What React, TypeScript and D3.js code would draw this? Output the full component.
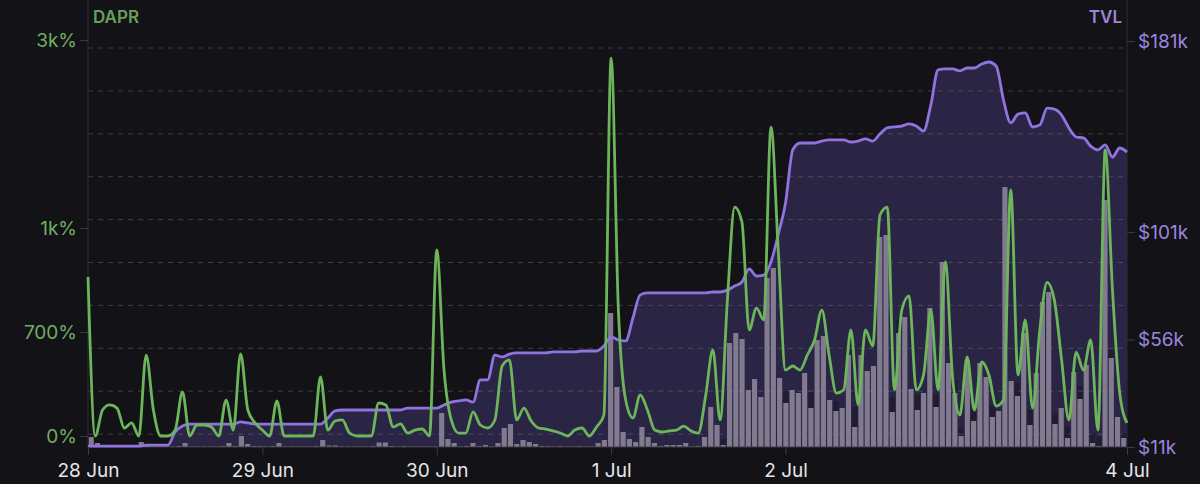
import React from 'react';
import {
  select,
  scaleLinear,
  scaleTime,
  scaleBand,
  line,
  area,
  curveMonotoneX,
  axisLeft,
  axisRight,
  axisBottom,
  range,
  timeHour,
  timeDay,
  timeFormat,
} from 'd3';

// hourly samples, 28 Jun 00:00 -> 3 Jul 23:00
const startTime = new Date(2023, 5, 28);
const hours = range(144).map(h => timeHour.offset(startTime, h));

// DAPR in %
const dapr = [
  859, 0, 175, 209, 188, 54, 88, 0, 545, 175,
  0, 0, 40, 296, 0, 74, 74, 61, 0, 242,
  40, 552, 175, 88, 40, 0, 236, 0, 0, 0,
  0, 0, 397, 40, 101, 108, 20, 0, 0, 0,
  222, 209, 61, 81, 20, 40, 47, 0, 937, 444,
  108, 20, 20, 162, 74, 54, 108, 471, 512, 108,
  188, 101, 54, 47, 34, 20, 0, 40, 54, 0,
  61, 141, 2808, 763, 242, 121, 276, 175, 40, 27,
  34, 40, 67, 34, 20, 269, 579, 108, 792, 1223,
  1064, 706, 769, 735, 2074, 937, 444, 471, 444, 545,
  646, 763, 545, 289, 310, 706, 209, 706, 606, 1138,
  1223, 310, 763, 804, 310, 411, 763, 310, 902, 390,
  141, 532, 175, 498, 411, 202, 242, 1404, 411, 735,
  188, 706, 843, 792, 512, 108, 565, 444, 646, 40,
  1830, 821, 289, 88,
];

// TVL in $k
const tvl = [
  11.4, 11.4, 11.4, 11.4, 11.4, 11.4, 11.4, 11.4, 11.8, 11.8,
  11.8, 11.8, 17.3, 19.8, 20.6, 20.6, 20.6, 20.6, 20.6, 20.6,
  20.6, 21.5, 21.1, 20.6, 20.6, 20.6, 20.6, 20.6, 20.6, 20.6,
  20.6, 20.6, 20.6, 23.1, 26.1, 26.5, 26.5, 26.5, 26.5, 26.5,
  26.5, 26.5, 26.5, 26.5, 27.3, 27.3, 27.3, 27.3, 27.3, 28.6,
  29.8, 30.3, 30.7, 29.8, 39.1, 39.1, 49.5, 48.7, 49.9, 50.4,
  50.4, 50.4, 50.4, 50.4, 50.8, 50.8, 50.8, 50.8, 51.2, 51.2,
  51.2, 53.3, 57.1, 55.8, 55.4, 65.0, 74.7, 75.5, 75.5, 75.5,
  75.5, 75.5, 75.5, 75.5, 75.5, 75.5, 75.9, 75.9, 76.7, 78.4,
  80.1, 85.6, 82.6, 83.0, 88.5, 100.0, 113.2, 135.4, 138.3, 138.3,
  138.3, 139.1, 139.6, 139.6, 139.6, 138.7, 139.1, 140.0, 139.1, 142.1,
  144.6, 145.0, 145.4, 146.3, 145.4, 143.3, 154.2, 168.9, 169.3, 169.3,
  168.5, 169.7, 169.7, 171.4, 172.2, 170.5, 156.3, 146.7, 150.4, 150.9,
  145.0, 145.8, 152.9, 152.5, 150.0, 144.6, 140.8, 140.4, 137.0, 135.4,
  137.5, 132.4, 136.2, 134.5,
];

// volume bars (lower grey part, upper dark part)
const volumeBase = [
  10, 4, 1, 0.5, 0.5, 0.5, 0.5, 0.5, 5, 1,
  0.5, 0.5, 0.5, 0.5, 1, 4, 0.5, 0.5, 0.5, 0.5,
  0.5, 1, 4, 1, 11, 3, 1, 1, 0.5, 1,
  4, 0.5, 0.5, 0.5, 0.5, 0.5, 1, 7, 1.5, 1.5,
  0.5, 0.5, 0.5, 0.5, 0.5, 1, 4.5, 4.5, 1, 0.5,
  1, 0.5, 0.5, 0.5, 0.5, 0.5, 34, 8, 4, 0.5,
  1, 4, 1, 2, 0.5, 4, 19, 23, 3, 7,
  5, 3, 1, 1, 0.5, 1, 0.5, 0.5, 1, 0.5,
  0.5, 4, 7, 134, 60, 15, 8, 5, 20, 10,
  4, 1, 2, 2, 2, 4, 0.5, 1, 10, 40,
  22, 2, 104, 114, 108, 57, 68, 50, 169, 179,
  69, 44, 57, 54, 74, 39, 107, 111, 47, 36,
  39, 92, 20, 92, 76, 81, 210, 212, 35, 114,
  130, 58, 37, 54, 139, 40, 185, 84, 54, 11,
  87, 26, 84, 70, 30, 36, 260, 66, 51, 114,
  22, 74, 145, 155, 23, 39, 9, 75, 48, 82,
  4, 1, 247, 89, 30, 9,
];
const volumeExtra = [
  0, 0, 0, 0, 0, 0, 0, 0, 0, 0,
  0, 0, 0, 0, 0, 0, 0, 0, 0, 0,
  0, 0, 0, 0, 0, 0, 0, 0, 0, 0,
  0, 0, 0, 0, 0, 0, 0, 0, 0, 0,
  0, 0, 0, 0, 0, 0, 0, 0, 0, 0,
  0, 0, 0, 0, 0, 0, 0, 0, 0, 0,
  0, 0, 0, 0, 0, 0, 0, 0, 0, 0,
  0, 0, 0, 0, 0, 0, 0, 0, 0, 0,
  0, 0, 0, 0, 0, 0, 0, 0, 0, 0,
  0, 0, 0, 0, 0, 0, 0, 0, 0, 0,
  0, 6, 0, 0, 0, 0, 0, 0, 0, 0,
  0, 12, 0, 0, 0, 16, 0, 0, 0, 10,
  0, 0, 20, 0, 0, 0, 0, 0, 15, 13,
  0, 0, 15, 0, 0, 13, 0, 0, 13, 9,
  0, 11, 0, 0, 11, 0, 0, 0, 13, 0,
  15, 0, 0, 0, 11, 0, 12, 0, 13, 0,
  10, 9, 45, 8, 0, 5,
];

const daprTicks = [0, 700, 1000, 3000];
const daprTickLabels = ['0%', '700%', '1k%', '3k%'];
const tvlTicks = [11, 56, 101, 181];
const tvlTickLabels = ['$11k', '$56k', '$101k', '$181k'];
const dayTicks = range(5).map(d => timeDay.offset(startTime, d));

const W = 1200;
const H = 484;
const X0 = 88;
const X1 = 1127;
const Y_BOTTOM = 447;
const FONT = 'Inter, "Noto Sans", sans-serif';

const GREEN = '#6db55a';
const PURPLE = '#9173e0';

export default function App() {
  const svgRef = React.useRef<SVGSVGElement>(null);

  React.useEffect(() => {
    const svg = select(svgRef.current);
    svg.selectAll('*').remove();

    const xScale = scaleTime()
      .domain([hours[0], hours[hours.length - 1]])
      .range([X0, X1]);
    const daprScale = scaleLinear().domain(daprTicks).range([436, 332, 228, 40]);
    const tvlScale = scaleLinear().domain([11, 181]).range([Y_BOTTOM, 41]);
    const volScale = scaleLinear().domain([0, 400]).range([Y_BOTTOM, 47]);
    const barScale = scaleBand<number>()
      .domain(range(volumeBase.length))
      .range([X0, X1])
      .paddingInner(0.18)
      .paddingOuter(0.1);

    svg.append('rect').attr('width', W).attr('height', H).attr('fill', '#131317');

    // tvl area
    const tvlArea = area<number>()
      .x((_, i) => xScale(hours[i]))
      .y0(Y_BOTTOM)
      .y1(d => tvlScale(d))
      .curve(curveMonotoneX);
    svg.append('path').datum(tvl).attr('d', tvlArea).attr('fill', '#2b2545');

    // bars
    const bars = svg.append('g');
    bars
      .selectAll('.vol-base')
      .data(volumeBase)
      .join('rect')
      .attr('class', 'vol-base')
      .attr('x', (_, i) => barScale(i)!)
      .attr('width', barScale.bandwidth())
      .attr('y', d => volScale(d))
      .attr('height', d => Y_BOTTOM - volScale(d))
      .attr('fill', '#827b8f');
    bars
      .selectAll('.vol-extra')
      .data(volumeExtra)
      .join('rect')
      .attr('class', 'vol-extra')
      .attr('x', (_, i) => barScale(i)!)
      .attr('width', barScale.bandwidth())
      .attr('y', (d, i) => volScale(volumeBase[i] + d))
      .attr('height', (d, i) => volScale(volumeBase[i]) - volScale(volumeBase[i] + d))
      .attr('fill', '#211c31');

    // dashed grid
    svg
      .append('g')
      .selectAll('line')
      .data(range(10).map(k => 48 + k * 42.9))
      .join('line')
      .attr('x1', X0)
      .attr('x2', X1)
      .attr('y1', d => d)
      .attr('y2', d => d)
      .attr('stroke', '#8a8a99')
      .attr('stroke-opacity', 0.35)
      .attr('stroke-dasharray', '5,5');

    // axis frame
    svg.append('line').attr('x1', X0).attr('x2', X0).attr('y1', 0).attr('y2', Y_BOTTOM)
      .attr('stroke', '#2c2c32');
    svg.append('line').attr('x1', X1).attr('x2', X1).attr('y1', 0).attr('y2', Y_BOTTOM)
      .attr('stroke', '#2c2c32');
    svg.append('line').attr('x1', X0).attr('x2', X1).attr('y1', Y_BOTTOM).attr('y2', Y_BOTTOM)
      .attr('stroke', '#3a3a40');

    // lines
    const tvlLine = line<number>()
      .x((_, i) => xScale(hours[i]))
      .y(d => tvlScale(d))
      .curve(curveMonotoneX);
    svg.append('path').datum(tvl).attr('d', tvlLine)
      .attr('fill', 'none').attr('stroke', PURPLE).attr('stroke-width', 2.8);

    const daprLine = line<number>()
      .x((_, i) => xScale(hours[i]))
      .y(d => daprScale(d))
      .curve(curveMonotoneX);
    svg.append('path').datum(dapr).attr('d', daprLine)
      .attr('fill', 'none').attr('stroke', GREEN).attr('stroke-width', 2.8)
      .attr('stroke-linejoin', 'round');

    // axes
    const styleAxis = (g: any, color: string) => {
      g.select('.domain').remove();
      g.selectAll('.tick line').attr('stroke', '#3a3a40');
      g.selectAll('.tick text')
        .attr('fill', color)
        .style('font-family', FONT)
        .style('font-size', '19px');
    };

    svg
      .append('g')
      .attr('transform', `translate(${X0},0)`)
      .call(
        axisLeft(daprScale)
          .tickValues(daprTicks)
          .tickSize(8)
          .tickPadding(3)
          .tickFormat((_, i) => daprTickLabels[i]) as any
      )
      .call(g => styleAxis(g, '#70ae60'));

    svg
      .append('g')
      .attr('transform', `translate(${X1},0)`)
      .call(
        axisRight(tvlScale)
          .tickValues(tvlTicks)
          .tickSize(8)
          .tickPadding(3)
          .tickFormat((_, i) => tvlTickLabels[i]) as any
      )
      .call(g => styleAxis(g, '#9b85de'));

    const fmt = timeFormat('%-d %b');
    svg
      .append('g')
      .attr('transform', `translate(0,${Y_BOTTOM})`)
      .call(
        axisBottom(xScale)
          .tickValues([...dayTicks, hours[hours.length - 1]])
          .tickSize(8)
          .tickPadding(9)
          .tickFormat(d => fmt(timeDay.ceil(d as Date))) as any
      )
      .call(g => styleAxis(g, '#e6e6e9'));

    // titles
    svg.append('text').attr('x', 93).attr('y', 23).text('DAPR')
      .attr('fill', '#6a9f5a').style('font-family', FONT)
      .style('font-size', '17px').style('font-weight', 600);
    svg.append('text').attr('x', 1122).attr('y', 23).text('TVL')
      .attr('text-anchor', 'end')
      .attr('fill', '#9a86d6').style('font-family', FONT)
      .style('font-size', '17px').style('font-weight', 600);
  }, []);

  return (
    <svg
      ref={svgRef}
      width={W}
      height={H}
      style={{ position: 'fixed', left: 0, top: 0, display: 'block' }}
    />
  );
}
